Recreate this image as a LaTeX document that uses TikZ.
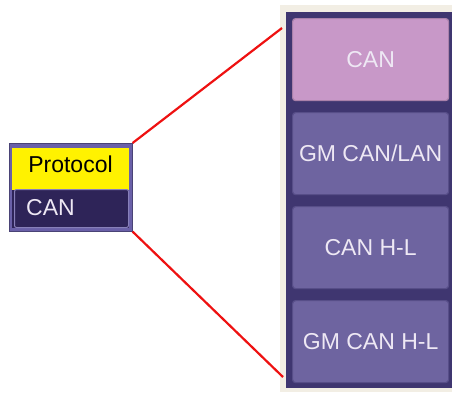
\documentclass[tikz,border=0pt]{standalone}
\usepackage{fontspec}
\setmainfont{Liberation Sans}
\definecolor{panel}{HTML}{3F3670}
\definecolor{btn}{HTML}{6E64A0}
\definecolor{btnsel}{HTML}{C898C8}
\definecolor{btnedge}{HTML}{574E88}
\definecolor{btntxt}{HTML}{EEE8F4}
\definecolor{beige}{HTML}{F2EEE4}
\definecolor{wdark}{HTML}{2E2458}
\definecolor{wborder}{HTML}{6A60A8}
\definecolor{linered}{HTML}{EE1111}
\begin{document}
\begin{tikzpicture}[x=1pt,y=-1pt,
  bigfont/.style={font=\fontsize{23}{26}\selectfont},
  btnbox/.style={draw=btnedge,line width=1.2pt,fill=btn,rounded corners=3pt,minimum width=156pt,minimum height=82pt,inner sep=0pt,text=btntxt,bigfont,anchor=north west},
  redline/.style={draw=linered,line width=2.2pt}]
\useasboundingbox (0,0) rectangle (452,392);
% right panel
\fill[beige] (280,5) rectangle (452,392);
\fill[panel] (286,12) rectangle (452,388);
\node[btnbox,fill=btnsel,draw=btnsel!85!black] (b1) at (292,18) {CAN};
\node[btnbox] (b2) at (292,112) {GM CAN/LAN};
\node[btnbox] (b3) at (292,206) {CAN H-L};
\node[btnbox] (b4) at (292,300) {GM CAN H-L};
% left widget
\node[fill=wborder,draw=wborder!70!black,line width=0.6pt,minimum width=123pt,minimum height=88pt,inner sep=0pt,anchor=north west] (w) at (9,143) {};
\fill[wdark] (12,148) rectangle (129,228);
\fill[yellow] (12,148) rectangle (129,190);
\node[bigfont,inner sep=0pt] (proto) at (70.5,164.5) {Protocol};
\node[draw=wborder!80!white,line width=1pt,rounded corners=2pt,fill=wdark,minimum width=114pt,minimum height=38pt,inner sep=0pt,anchor=north west] (val) at (14,189) {};
\node[anchor=west,text=btntxt,bigfont,inner sep=0pt] (valtxt) at (26,208) {CAN};
% red connector lines
\coordinate (t1) at (282,28);
\coordinate (t2) at (283,377);
\draw[redline] (w.north east) -- (t1);
\draw[redline] (w.south east) -- (t2);
\end{tikzpicture}
\end{document}
